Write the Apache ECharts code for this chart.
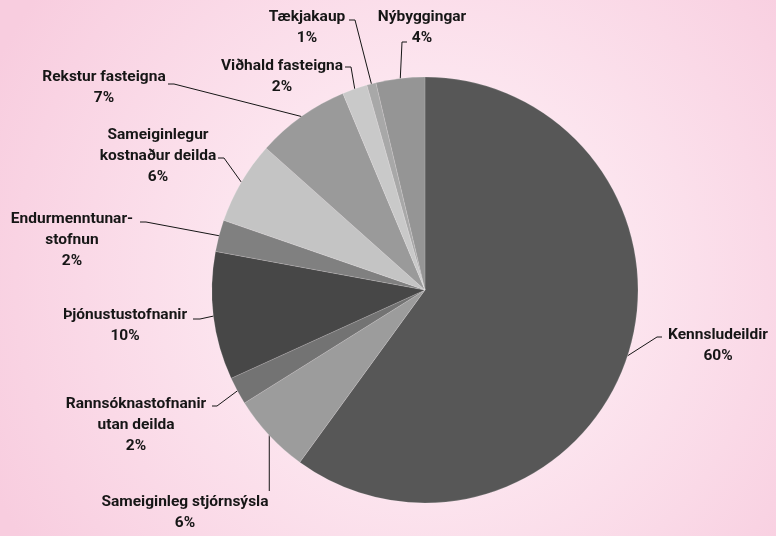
<!DOCTYPE html>
<html>
<head>
<meta charset="utf-8">
<script src="https://cdn.jsdelivr.net/npm/echarts@6/dist/echarts.min.js"></script>
<style>
  html, body { margin: 0; padding: 0; }
  #chart { width: 776px; height: 536px; }
</style>
</head>
<body>
<div id="chart"></div>
<script>
// categories and their shares (percent), clockwise from 12 o'clock
const categories = [
  'Kennsludeildir',
  'Sameiginleg stjórnsýsla',
  'Rannsóknastofnanir\nutan deilda',
  'Þjónustustofnanir',
  'Endurmenntunar-\nstofnun',
  'Sameiginlegur\nkostnaður deilda',
  'Rekstur fasteigna',
  'Viðhald fasteigna',
  'Tækjakaup',
  'Nýbyggingar'
]
const shares = [60.0, 6.1, 2.1, 9.7, 2.4, 6.3, 7.1, 1.9, 0.7, 3.7]
const sliceColors = ['#575757', '#9c9c9c', '#737373', '#474747', '#808080',
  '#c4c4c4', '#9a9a9a', '#c9c9c9', '#a8a8a8', '#959595']

// where each label sits, and where its leader line meets the text
const labelPlaces = [
  { x: 718, y: 346, end: [662, 337], elbow: [657, 337] },
  { x: 185, y: 513, end: null, elbow: null, drop: 491 },
  { x: 136, y: 425, end: [212, 406], elbow: [217, 406] },
  { x: 125, y: 326, end: [193, 319], elbow: [200, 319] },
  { x: 72, y: 240, end: [140, 222], elbow: [146, 222] },
  { x: 158, y: 156, end: [218, 158], elbow: [224, 158] },
  { x: 104, y: 88, end: [168, 84], elbow: [174, 84] },
  { x: 282, y: 77, end: [345, 67], elbow: [351, 67] },
  { x: 307, y: 28, end: [349, 20], elbow: [355, 20] },
  { x: 422, y: 28, end: [407, 42], elbow: [402, 42] }
]

const chart = echarts.init(document.getElementById('chart'))
chart.setOption({
  backgroundColor: {
    type: 'radial',
    x: 0.55,
    y: 0.52,
    r: 0.9,
    colorStops: [
      { offset: 0, color: '#fff6fa' },
      { offset: 1, color: '#f8cddf' }
    ]
  },
  animation: false,
  series: [{
    type: 'pie',
    center: [425, 290],
    radius: 213,
    startAngle: 90,
    clockwise: true,
    avoidLabelOverlap: false,
    data: categories.map((name, i) => ({
      name: name,
      value: shares[i],
      itemStyle: { color: sliceColors[i] }
    })),
    itemStyle: {
      borderColor: 'rgba(255,255,255,0.25)',
      borderWidth: 0.6
    },
    label: {
      show: true,
      position: 'outside',
      formatter: p => p.name + '\n' + Math.round(p.percent) + '%',
      fontFamily: 'Roboto',
      fontWeight: 'bold',
      fontSize: 15.5,
      lineHeight: 21,
      color: '#161616',
      align: 'center'
    },
    labelLine: {
      show: true,
      lineStyle: { color: '#161616', width: 1 }
    },
    labelLayout: function (params) {
      const place = labelPlaces[params.dataIndex]
      const anchor = params.labelLinePoints ? params.labelLinePoints[0] : null
      let pts
      if (anchor) {
        if (place.end) {
          pts = [anchor, place.elbow, place.end]
        } else {
          pts = [anchor, [anchor[0], anchor[1] + 1], [anchor[0], place.drop]]
        }
      }
      return {
        x: place.x,
        y: place.y,
        align: 'center',
        verticalAlign: 'middle',
        labelLinePoints: pts
      }
    }
  }]
})
</script>
</body>
</html>
